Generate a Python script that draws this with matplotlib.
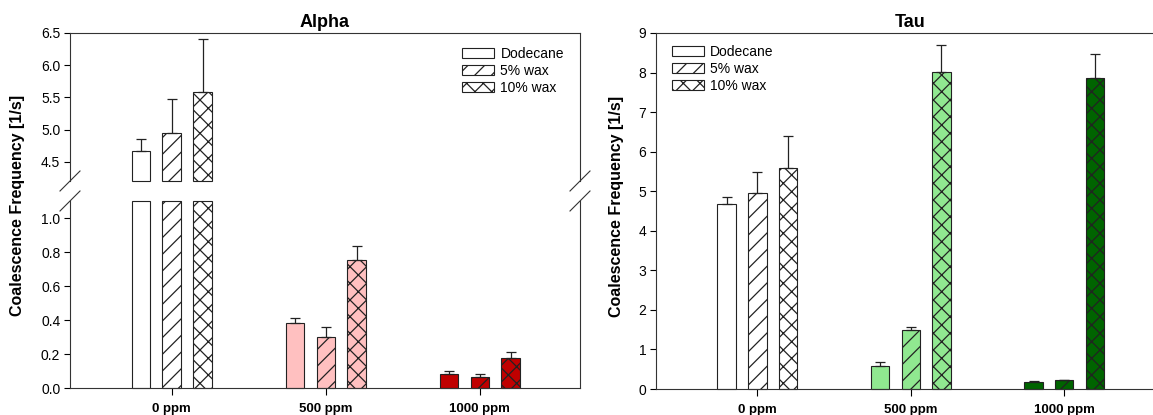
import numpy as np
import matplotlib
matplotlib.use('Agg')
import matplotlib.pyplot as plt
from matplotlib.patches import Patch

plt.rcParams['font.family'] = ['Liberation Sans', 'DejaVu Sans']
plt.rcParams['hatch.linewidth'] = 0.9

# -------------------
# Data
# -------------------
groups = ['0 ppm', '500 ppm', '1000 ppm']
series = ['Dodecane', '5% wax', '10% wax']
hatches = ['', '//', 'xx']

# Alpha: mean values and upper error per series (rows) x group (cols)
alpha_vals = np.array([[4.67, 0.385, 0.082],
                       [4.95, 0.302, 0.065],
                       [5.59, 0.755, 0.178]])
alpha_err = np.array([[0.19, 0.024, 0.016],
                      [0.53, 0.058, 0.018],
                      [0.81, 0.080, 0.036]])
alpha_colors = ['white', '#ffc0c0', '#c00000']

# Tau
tau_vals = np.array([[4.67, 0.59, 0.18],
                     [4.95, 1.48, 0.22],
                     [5.59, 8.01, 7.87]])
tau_err = np.array([[0.19, 0.09, 0.02],
                    [0.53, 0.09, 0.02],
                    [0.81, 0.68, 0.60]])
tau_colors = ['white', '#90e890', '#006400']

alpha_upper = (4.2, 6.5)
alpha_lower = (0.0, 1.1)

# -------------------
# Layout (pixel based)
# -------------------
W, H = 1153, 415
fig = plt.figure(figsize=(W / 100, H / 100), dpi=100)

def px_axes(x0, x1, y0, y1):
    return fig.add_axes([x0 / W, (H - y1) / H, (x1 - x0) / W, (y1 - y0) / H])

ax_up = px_axes(70, 580, 33, 181)
ax_lo = px_axes(70, 580, 201, 388)
ax_tau = px_axes(656, 1164, 33, 389)

x = np.arange(len(groups))
offsets = [-0.2, 0.0, 0.2]
width = 0.12
xlim = (-0.66, 2.65)
edge = '#222222'


def draw_bars(ax, vals, errs, colors, lo, hi, err_mask):
    for i in range(len(series)):
        for j in range(len(groups)):
            v = vals[i, j]
            if v <= lo:
                continue
            top = min(v, hi)
            ax.bar(x[j] + offsets[i], top - lo, bottom=lo, width=width,
                   color=colors[j], edgecolor=edge, linewidth=0.8,
                   hatch=hatches[i], clip_on=False, zorder=2)
            if err_mask[j]:
                ax.errorbar(x[j] + offsets[i], v, yerr=[[0], [errs[i, j]]],
                            fmt='none', ecolor=edge, elinewidth=0.9,
                            capsize=3.6, capthick=0.9, zorder=3)


def style(ax):
    ax.set_xlim(*xlim)
    for s in ax.spines.values():
        s.set_linewidth(0.8)
        s.set_color('#333333')
    ax.tick_params(axis='y', direction='out', length=4, width=0.8,
                   labelsize=10, pad=3, right=False)
    ax.tick_params(axis='x', direction='out', length=5, width=0.8,
                   pad=6, top=False)


# -------------------
# Alpha (broken axis)
# -------------------
draw_bars(ax_up, alpha_vals, alpha_err, alpha_colors, *alpha_upper,
          err_mask=[True, False, False])
draw_bars(ax_lo, alpha_vals, alpha_err, alpha_colors, *alpha_lower,
          err_mask=[False, True, True])

ax_up.set_ylim(*alpha_upper)
ax_up.set_yticks([4.5, 5.0, 5.5, 6.0, 6.5])
ax_up.set_yticklabels(['4.5', '5.0', '5.5', '6.0', '6.5'])
ax_up.set_xticks([])
ax_up.spines['bottom'].set_visible(False)
style(ax_up)
ax_up.set_title('Alpha', fontsize=13, fontweight='bold', pad=4)

ax_lo.set_ylim(*alpha_lower)
ax_lo.set_yticks([0.0, 0.2, 0.4, 0.6, 0.8, 1.0])
ax_lo.set_yticklabels(['0.0', '0.2', '0.4', '0.6', '0.8', '1.0'])
ax_lo.set_xticks(x)
ax_lo.set_xticklabels(groups, fontweight='bold', fontsize=9.5)
ax_lo.spines['top'].set_visible(False)
style(ax_lo)

# break marks
for ax, h in ((ax_up, 148), (ax_lo, 187)):
    dx, dy = 10 / 510, 10 / h
    yb = 0 if ax is ax_up else 1
    for xb in (0, 1):
        ax.plot([xb - dx, xb + dx], [yb - dy, yb + dy], transform=ax.transAxes,
                color='#333333', lw=0.8, clip_on=False)

# -------------------
# Tau
# -------------------
draw_bars(ax_tau, tau_vals, tau_err, tau_colors, 0, 9,
          err_mask=[True, True, True])
ax_tau.set_ylim(0, 9)
ax_tau.set_yticks(range(10))
ax_tau.set_xticks(x)
ax_tau.set_xticklabels(groups, fontweight='bold', fontsize=9.5)
style(ax_tau)
ax_tau.set_title('Tau', fontsize=13, fontweight='bold', pad=4)

# -------------------
# Legends
# -------------------
handles = [Patch(facecolor='white', edgecolor=edge, linewidth=0.8, hatch=h)
           for h in hatches]
leg_kw = dict(frameon=False, fontsize=10, handlelength=2.3, handleheight=0.75,
              handletextpad=0.45, labelspacing=0.2, borderpad=0,
              borderaxespad=0, loc='upper left')
ax_up.legend(handles, series, bbox_to_anchor=(0.769, 0.905), **leg_kw)
ax_tau.legend(handles, series, bbox_to_anchor=(0.031, 0.966), **leg_kw)

# -------------------
# Y labels
# -------------------
ylab = 'Coalescence Frequency [1/s]'
fig.text(18 / W, 1 - 205 / H, ylab, rotation=90, ha='center', va='center',
         fontsize=11.5, fontweight='bold')
fig.text(616 / W, 1 - 206 / H, ylab, rotation=90, ha='center', va='center',
         fontsize=11.5, fontweight='bold')

fig.savefig('out.png', dpi=100)
